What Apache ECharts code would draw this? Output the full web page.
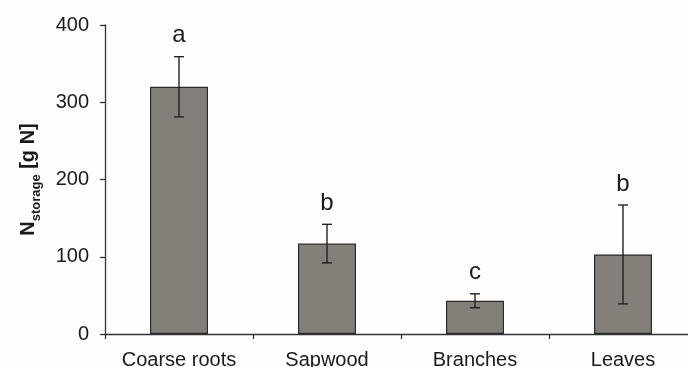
<!DOCTYPE html>
<html>
<head>
<meta charset="utf-8">
<script src="https://cdn.jsdelivr.net/npm/echarts@6/dist/echarts.min.js"></script>
<style>
html,body{margin:0;padding:0;background:#fdfdfd;}
#chart{width:688px;height:367px;}
</style>
</head>
<body>
<div id="chart"></div>
<script>
var categories = ['Coarse roots', 'Sapwood', 'Branches', 'Leaves'];
var means = [320, 117, 43, 103];
var errors = [39, 25, 9, 64];
var letters = ['a', 'b', 'c', 'b'];
var yTicks = [0, 100, 200, 300, 400];

var FONT = '"Liberation Sans", Arial, sans-serif';
var chart = echarts.init(document.getElementById('chart'));

var errData = means.map(function (m, i) { return [i, m, errors[i]]; });

chart.setOption({
  backgroundColor: '#fdfdfd',
  animation: false,
  grid: { left: 105, right: -9, top: 25, bottom: 33, containLabel: false, outerBoundsMode: 'none' },
  xAxis: {
    type: 'category', data: categories,
    axisLine: { show: true, lineStyle: { color: '#333', width: 1.3 } },
    axisTick: { show: true, length: 5, lineStyle: { color: '#333', width: 1.3 } },
    axisLabel: { interval: 0, color: '#1a1a1a', fontSize: 20, fontFamily: FONT, margin: 16 }
  },
  yAxis: {
    type: 'value', min: yTicks[0], max: yTicks[yTicks.length - 1], interval: 100,
    splitLine: { show: false },
    axisLine: { show: true, lineStyle: { color: '#333', width: 1.3 } },
    axisTick: { show: true, length: 5, lineStyle: { color: '#333', width: 1.3 } },
    axisLabel: { color: '#1a1a1a', fontSize: 20, fontFamily: FONT, margin: 16 },
    name: '{n|N}{s|storage}{n| [g N]}',
    nameLocation: 'middle',
    nameRotate: 90,
    nameGap: 67,
    nameTextStyle: {
      rich: {
        n: { fontSize: 20, fontWeight: 'bold', fontFamily: FONT, color: '#1a1a1a', verticalAlign: 'bottom', lineHeight: 24 },
        s: { fontSize: 13, fontWeight: 'bold', fontFamily: FONT, color: '#1a1a1a', verticalAlign: 'bottom', lineHeight: 24, padding: [0, 0, -5, 0] }
      }
    }
  },
  series: [
    {
      type: 'bar',
      data: means,
      barWidth: 58,
      itemStyle: { color: '#857f7a', borderColor: '#2a2a2a', borderWidth: 1.2 }
    },
    {
      type: 'custom',
      data: errData,
      z: 5,
      renderItem: function (params, api) {
        var i = api.value(0), m = api.value(1), e = api.value(2);
        var top = api.coord([i, m + e]);
        var bot = api.coord([i, m - e]);
        var hw = 5;
        var st = { stroke: '#222', lineWidth: 1.4 };
        return {
          type: 'group',
          children: [
            { type: 'line', shape: { x1: top[0], y1: top[1], x2: bot[0], y2: bot[1] }, style: st },
            { type: 'line', shape: { x1: top[0] - hw, y1: top[1], x2: top[0] + hw, y2: top[1] }, style: st },
            { type: 'line', shape: { x1: bot[0] - hw, y1: bot[1], x2: bot[0] + hw, y2: bot[1] }, style: st },
            { type: 'text', style: { text: letters[params.dataIndex], x: top[0], y: top[1] - 21,
              align: 'center', verticalAlign: 'middle', fontSize: 24, fontFamily: FONT, fill: '#1a1a1a' } }
          ]
        };
      }
    }
  ]
});
</script>
</body>
</html>
